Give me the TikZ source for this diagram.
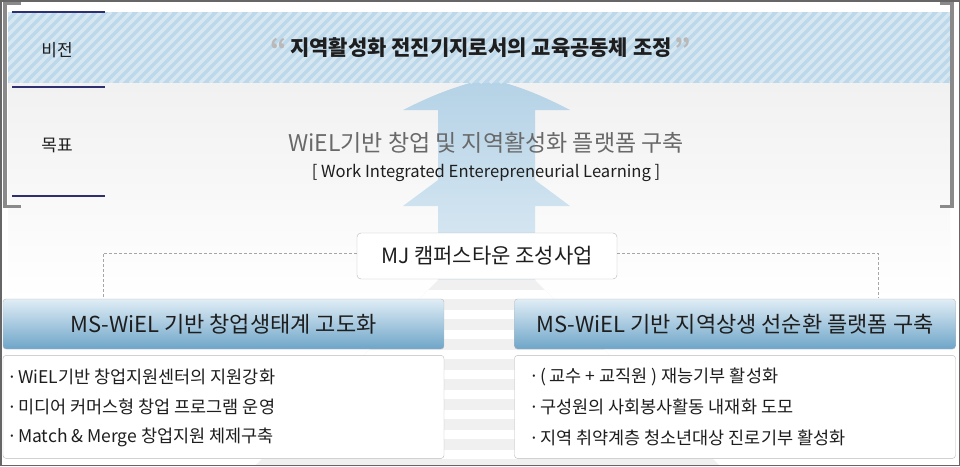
\documentclass[tikz,border=0pt]{standalone}
\usepackage{fontspec}
\setmainfont{Noto Sans CJK KR}
\usetikzlibrary{positioning}
\definecolor{bandblue}{RGB}{188,216,234}
\definecolor{arrowblue}{RGB}{180,210,230}
\definecolor{headtop}{RGB}{224,237,246}
\definecolor{headbot}{RGB}{110,165,200}
\definecolor{navyrule}{RGB}{45,47,112}
\definecolor{framegray}{RGB}{138,138,138}
\definecolor{goalgray}{RGB}{105,105,105}
\definecolor{inkdark}{RGB}{30,30,30}
\tikzset{
  rowlabel/.style={font=\fontsize{17}{19}\selectfont, text=inkdark},
  tierhead/.style={draw=gray!55, rounded corners=3pt, top color=headtop, bottom color=headbot,
    minimum width=441pt, minimum height=50pt, font=\fontsize{22}{25}\selectfont, text=inkdark},
  listbox/.style={draw=gray!55, rounded corners=3pt, fill=white, minimum width=441pt, minimum height=103pt},
  listitem/.style={anchor=west, inner sep=0pt, font=\fontsize{17.5}{20}\selectfont, text=inkdark},
  linkline/.style={draw=gray!70, dash pattern=on 3pt off 2pt, line width=0.8pt},
  quotemark/.style={font=\fontsize{26}{26}\selectfont\bfseries, text=gray!55}
}
\begin{document}
\begin{tikzpicture}[x=1pt,y=-1pt]
\useasboundingbox (0,0) rectangle (960,466);
\fill[white] (0,0) rectangle (960,466);
\shade[top color=gray!11, bottom color=white] (8,83) rectangle (950,300);

\shade[top color=arrowblue, bottom color=arrowblue!45] (488,78) to[bend right=6] (403,110) -- (438,110) -- (438,180)
  -- (403,206) -- (438,206) -- (438,280) -- (535,280) -- (535,206) -- (570,206) -- (535,180) -- (535,110)
  -- (570,110) to[bend right=6] (488,78) -- cycle;
\fill[gray!12] (438,280) -- (535,280) -- (720,466) -- (255,466) -- cycle;
\begin{scope}
\clip (438,280) -- (535,280) -- (720,466) -- (255,466) -- cycle;
\foreach \y in {290,310,...,450} {
\fill[white] (0,\y) rectangle (960,\y+9);
}
\end{scope}

\fill[bandblue] (8,12) rectangle (950,83);
\begin{scope}
\clip (8,12) rectangle (950,83);
\foreach \k in {0,...,102} {
\draw[white, opacity=.4, line width=3.5pt] (\k*10-70,83) -- ++(71,-71);
}
\end{scope}

\foreach \y in {12,87,196} {
\draw[navyrule, line width=2pt] (12,\y) -- (105,\y);
}
\draw[framegray, line width=3.5pt] (21,3.5) -- (5,3.5) -- (5,206.5) -- (21,206.5);
\draw[framegray, line width=3.5pt] (940,3.5) -- (952,3.5) -- (952,206.5) -- (940,206.5);

\node[rowlabel] (vislabel) at (57,50) {비전};
\node[rowlabel] (goallabel) at (57,145) {목표};

\node[font=\fontsize{21}{23}\selectfont\bfseries, text=inkdark] (vision) at (481,48) {지역활성화 전진기지로서의 교육공동체 조정};
\node[quotemark, left=-4pt of vision.north west, anchor=north east] (lquote) {“};
\node[quotemark, right=-4pt of vision.north east, anchor=north west] (rquote) {”};

\node[font=\fontsize{23}{25}\selectfont, text=goalgray] (goal) at (486,143) {WiEL기반 창업 및 지역활성화 플랫폼 구축};
\node[font=\fontsize{16.6}{19}\selectfont, text=inkdark] (goalsub) at (486,173) {[ Work Integrated Enterepreneurial Learning ]};

\node[draw=gray!55, rounded corners=4pt, fill=white, minimum width=260pt, minimum height=46pt,
  font=\fontsize{21}{24}\selectfont, text=inkdark] (mj) at (487,256) {MJ 캠퍼스타운 조성사업};

\node[tierhead] (lefthead) at (223.5,324) {MS-WiEL 기반 창업생태계 고도화};
\node[tierhead] (righthead) at (735,324) {MS-WiEL 기반 지역상생 선순환 플랫폼 구축};
\node[listbox, below=6pt of lefthead] (leftlist) {};
\node[listbox, below=6pt of righthead] (rightlist) {};

\foreach \t [count=\i] in {WiEL기반 창업지원센터의 지원강화, 미디어 커머스형 창업 프로그램 운영, Match \& Merge 창업지원 체제구축} {
\node[listitem] (litem\i) at (7,346+30.5*\i) {·\hspace{1pt}\t};
}
\foreach \t [count=\i] in {( 교수 + 교직원 ) 재능기부 활성화, 구성원의 사회봉사활동 내재화 도모, 지역 취약계층 청소년대상 진로기부 활성화} {
\node[listitem] (ritem\i) at (529,346+30.5*\i) {·\hspace{1pt}\t};
}

\coordinate (ldrop) at (103,298);
\coordinate (rdrop) at (878,298);
\draw[linkline] ([yshift=3pt]mj.west) -| (ldrop);
\draw[linkline] ([yshift=3pt]mj.east) -| (rdrop);

\draw[gray!80!black, line width=1.5pt] (0.75,0.75) rectangle (959.25,465.25);
\end{tikzpicture}
\end{document}
